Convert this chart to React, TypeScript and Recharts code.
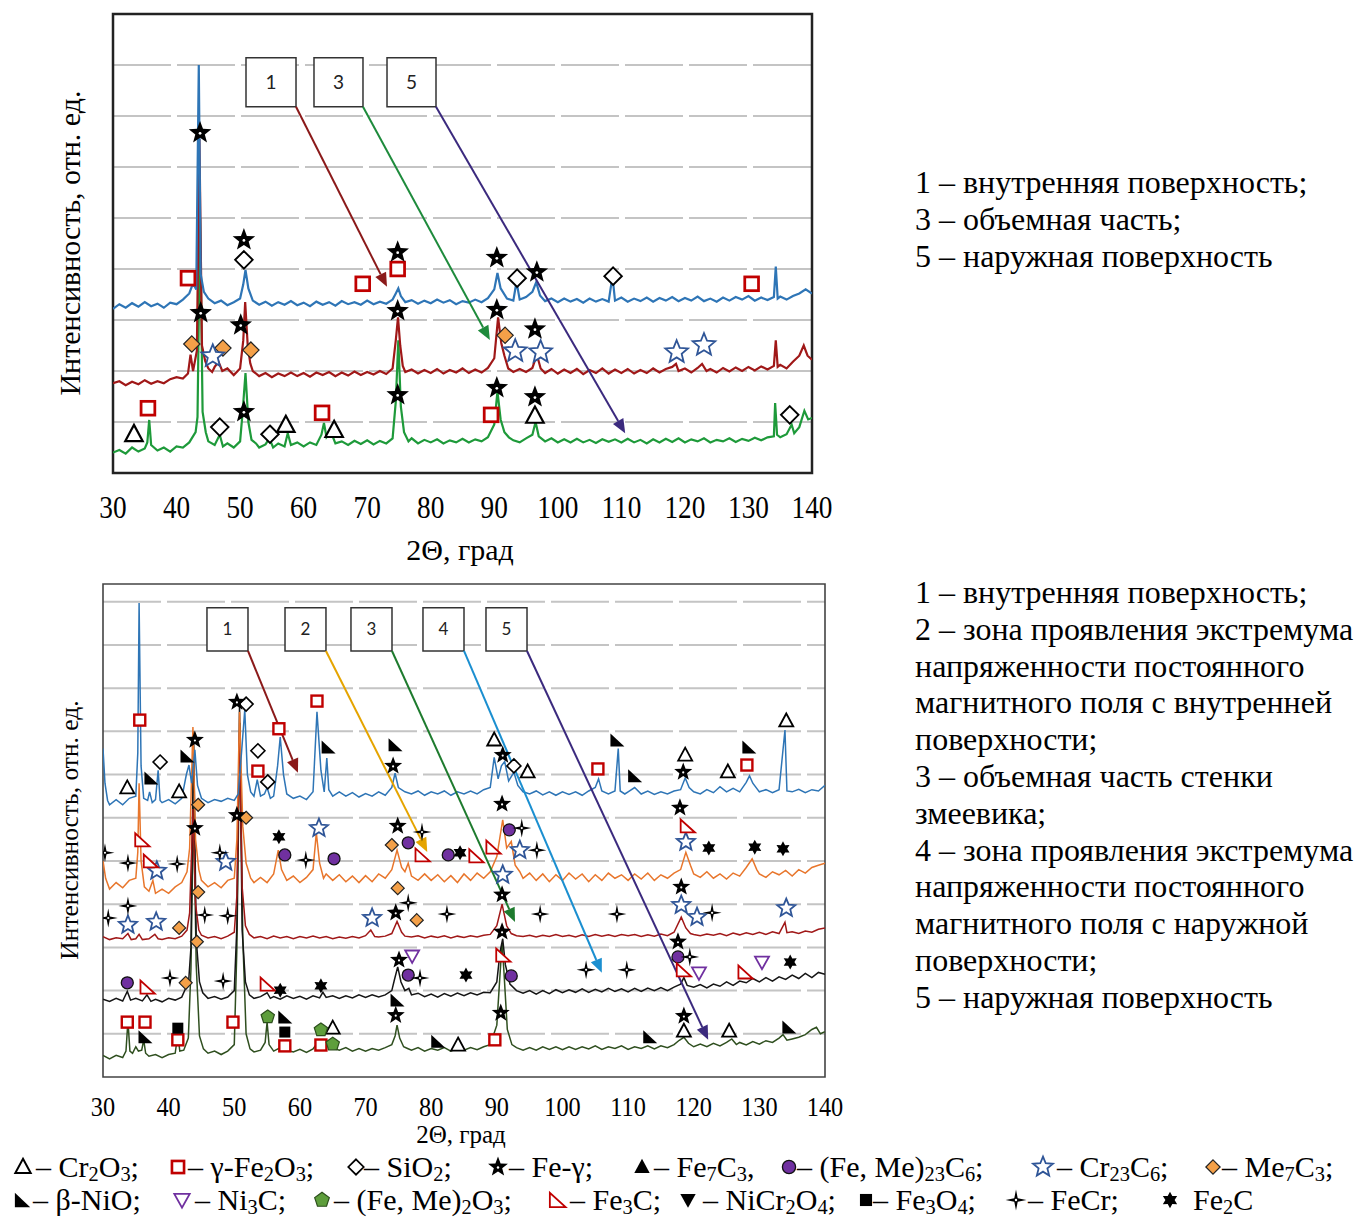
import React from 'react';
import { ComposedChart, Line, Scatter, XAxis, YAxis, CartesianGrid, ReferenceArea, ReferenceLine } from 'recharts';

type P = [number, number];
type Kind = 'tri' | 'sq' | 'dia' | 'star' | 'triS' | 'circ' | 'starO' | 'diaO' | 'nio' | 'ni3c' | 'pent' | 'fe3c' | 'invS' | 'sqS' | 'fecr' | 'fe2c';

const X_TICKS = [30, 40, 50, 60, 70, 80, 90, 100, 110, 120, 130, 140];
const TOP_GRID = [1, 2, 3, 4, 5, 6, 7, 8];
const BOT_GRID = [1, 2, 3, 4, 5, 6, 7, 8, 9, 10, 11];

// ---------- TOP CHART (intensity in relative units, 0..9) ----------
const TOP_1: P[] = [[30,3.22],[31,3.31],[32,3.24],[33,3.33],[34,3.26],[35,3.35],[36,3.27],[37,3.32],[38,3.24],[39,3.34],[40,3.31],[41,3.4],[42,3.52],[42.6,3.72],[43.1,3.6],[43.5,8.0],[43.8,3.9],[44.3,3.55],[45,3.42],[46,3.33],[47,3.38],[48,3.29],[49,3.35],[50,3.42],[50.5,3.7],[50.85,3.98],[51.3,3.62],[52,3.38],[53,3.3],[54,3.36],[55,3.28],[56,3.35],[57,3.3],[58,3.37],[59,3.29],[60,3.34],[61,3.27],[62,3.36],[63,3.3],[64,3.35],[65,3.28],[66,3.37],[67,3.31],[68,3.35],[69,3.3],[70,3.38],[71,3.31],[72,3.36],[73,3.32],[74,3.4],[74.5,3.52],[74.9,3.62],[75.3,3.47],[76,3.35],[77,3.39],[78,3.32],[79,3.38],[80,3.33],[81,3.4],[82,3.34],[83,3.39],[84,3.31],[85,3.37],[86,3.34],[87,3.4],[88,3.35],[89,3.43],[90,3.6],[90.5,3.92],[91,3.62],[92,3.42],[93,3.38],[93.5,3.75],[94,3.4],[95,3.45],[96,3.55],[96.6,3.74],[97.2,3.48],[98,3.37],[99,3.42],[100,3.35],[101,3.42],[102,3.36],[103,3.41],[104,3.34],[105,3.42],[106,3.36],[107,3.41],[108,3.36],[108.6,3.86],[109,3.38],[110,3.44],[111,3.36],[112,3.42],[113,3.37],[114,3.44],[115,3.36],[116,3.43],[117,3.38],[118,3.45],[119,3.37],[120,3.43],[121,3.38],[122,3.46],[123,3.37],[124,3.42],[125,3.36],[126,3.44],[127,3.38],[128,3.45],[129,3.4],[130,3.47],[131,3.38],[132,3.44],[133,3.39],[134,3.45],[134.3,4.05],[134.6,3.42],[135,3.46],[136,3.4],[137,3.47],[138,3.52],[139,3.6],[140,3.52]];
const TOP_3: P[] = [[30,1.76],[31,1.8],[32,1.72],[33,1.79],[34,1.74],[35,1.82],[36,1.75],[37,1.8],[38,1.76],[39,1.84],[40,1.88],[41,1.85],[41.8,1.95],[42.2,2.32],[42.6,2.0],[43.2,2.4],[43.6,6.55],[44,2.5],[44.5,2.2],[45,2.05],[45.6,1.98],[46,2.08],[46.6,2.18],[47.2,2.0],[48,2.05],[49,1.92],[50,2.05],[50.5,2.6],[50.8,3.35],[51.2,2.5],[51.6,2.15],[52,2.0],[53,1.9],[54,1.96],[55,1.88],[56,1.95],[57,1.9],[58,1.97],[59,1.9],[60,1.96],[61,1.89],[62,1.97],[63,1.92],[64,1.98],[65,1.9],[66,1.97],[67,1.91],[68,1.99],[69,1.92],[70,1.98],[71,1.93],[72,2.0],[73,1.94],[74,2.05],[74.5,2.6],[74.85,3.05],[75.2,2.5],[75.6,2.1],[76,1.98],[77,2.03],[78,1.95],[79,2.02],[80,1.96],[81,2.04],[82,1.95],[83,2.02],[84,1.97],[85,2.05],[86,1.96],[87,2.03],[88,1.97],[89,2.06],[90,2.25],[90.6,3.05],[91.1,2.55],[91.6,2.3],[92.2,2.05],[93,1.98],[94,2.04],[95,1.98],[96,2.06],[96.7,2.32],[97.3,2.05],[98,1.96],[99,2.04],[100,1.95],[101,2.03],[102,1.96],[103,2.04],[104,1.94],[105,2.02],[106,1.96],[107,2.05],[108,1.95],[109,2.03],[110,1.96],[111,2.04],[112,1.95],[113,2.02],[114,1.96],[115,2.05],[116,1.97],[117,2.04],[118,2.08],[118.6,2.14],[119,2.0],[120,2.05],[121,1.97],[122,2.06],[122.7,2.14],[123.4,2.0],[124,2.04],[125,1.97],[126,2.06],[127,1.99],[128,2.07],[129,2.0],[130,2.08],[131,2.01],[132,2.09],[133,2.03],[134,2.1],[134.3,2.6],[134.6,2.08],[135,2.12],[136,2.05],[137,2.18],[138,2.3],[138.7,2.5],[139.3,2.3],[140,2.22]];
const TOP_5: P[] = [[30,0.4],[31,0.45],[32,0.38],[33,0.5],[34,0.42],[35,0.48],[35.4,0.6],[35.7,1.04],[36,0.55],[37,0.44],[38,0.5],[39,0.42],[40,0.52],[41,0.5],[42,0.6],[43,0.8],[43.3,1.1],[43.7,5.0],[44.1,1.2],[44.6,0.8],[45,0.62],[46,0.55],[46.8,0.75],[47.3,0.52],[48,0.58],[49,0.5],[50,0.62],[50.4,1.2],[50.85,1.96],[51.3,1.0],[51.8,0.65],[52.5,0.58],[53,0.5],[54,0.56],[54.6,0.68],[55.2,0.5],[56,0.58],[57,0.52],[57.5,0.78],[58,0.55],[59,0.6],[60,0.52],[61,0.6],[62,0.55],[62.8,0.75],[63.2,0.98],[63.6,0.7],[64.3,0.8],[65,0.58],[66,0.62],[67,0.55],[68,0.63],[69,0.57],[70,0.64],[71,0.56],[72,0.63],[73,0.58],[74,0.68],[74.5,1.4],[74.9,2.6],[75.3,1.3],[75.8,0.8],[76.5,0.62],[77,0.68],[78,0.58],[79,0.65],[80,0.6],[81,0.66],[82,0.58],[83,0.64],[84,0.6],[85,0.67],[86,0.6],[87,0.66],[88,0.62],[89,0.7],[90,0.95],[90.5,1.6],[91,1.05],[91.6,0.8],[92.3,0.7],[93,0.64],[94,0.6],[95,0.68],[96,0.75],[96.5,1.0],[97,0.72],[98,0.62],[99,0.68],[100,0.6],[101,0.66],[102,0.6],[103,0.67],[104,0.6],[105,0.65],[106,0.59],[107,0.66],[108,0.61],[109,0.66],[110,0.6],[111,0.67],[112,0.6],[113,0.65],[114,0.58],[115,0.66],[116,0.6],[117,0.67],[118,0.61],[119,0.68],[120,0.6],[121,0.66],[122,0.62],[123,0.68],[124,0.6],[125,0.65],[126,0.62],[127,0.68],[128,0.61],[129,0.67],[130,0.63],[131,0.69],[132,0.64],[133,0.7],[134,0.72],[134.2,1.37],[134.5,0.75],[135,0.7],[136,0.76],[136.8,0.95],[137.2,0.78],[138,0.9],[138.8,1.22],[139.4,1.05],[140,1.08]];

const TOP_FE_GAMMA: P[] = [[43.7,6.67],[50.6,4.57],[74.8,4.33],[90.4,4.22],[96.7,3.94],[43.8,3.14],[50.1,2.9],[74.8,3.18],[90.4,3.2],[96.4,2.82],[50.6,1.2],[74.8,1.53],[90.4,1.67],[96.4,1.49]];
const TOP_FE2O3: P[] = [[41.8,3.82],[69.3,3.71],[74.8,4.0],[130.5,3.71],[35.5,1.27],[62.9,1.18],[89.5,1.14]];
const TOP_SIO2: P[] = [[50.6,4.18],[93.6,3.82],[108.7,3.86],[46.8,0.9],[54.7,0.76],[136.5,1.14]];
const TOP_ME7C3: P[] = [[42.4,2.53],[47.3,2.45],[51.7,2.41],[91.7,2.7]];
const TOP_CR23C6: P[] = [[45.7,2.29],[93.3,2.39],[97.3,2.37],[118.7,2.37],[123,2.51]];
const TOP_CR2O3: P[] = [[33.3,0.76],[57.2,0.94],[64.8,0.84],[96.4,1.12]];

const TOP_BOXES = [
  { label: '1', x1: 50.93, x2: 58.8, y1: 7.18, y2: 8.14 },
  { label: '3', x1: 61.63, x2: 69.34, y1: 7.18, y2: 8.14 },
  { label: '5', x1: 73.12, x2: 80.83, y1: 7.18, y2: 8.14 },
];
const TOP_ARROWS = [
  { color: '#8B1A1A', from: [58.8, 7.18], to: [73.12, 3.65] },
  { color: '#1E8B3C', from: [69.34, 7.18], to: [89.3, 2.61] },
  { color: '#3B2A7E', from: [80.83, 7.18], to: [110.6, 0.78] },
];

// ---------- BOTTOM CHART (0..11.42) ----------
const BOT_1: P[] = [[30,7.6],[30.3,6.8],[30.7,6.4],[31,6.3],[32,6.42],[33,6.3],[34,6.45],[35,6.5],[35.3,7.5],[35.5,10.97],[35.8,7.2],[36.2,6.45],[36.8,6.4],[37.1,6.6],[37.5,6.35],[38,6.42],[38.4,7.1],[38.7,6.4],[39,6.35],[40,6.42],[41,6.32],[42,6.45],[42.7,7.0],[43.1,7.22],[43.5,6.8],[44,7.57],[44.4,6.75],[45,6.45],[46,6.35],[47,6.42],[48,6.38],[49,6.45],[50,6.4],[50.6,6.55],[51.1,7.5],[51.6,8.5],[52,7.0],[52.5,6.6],[53,6.5],[53.5,6.88],[54,6.5],[54.6,6.55],[55,6.7],[55.5,6.45],[56,6.5],[56.6,7.2],[57,7.87],[57.5,7.0],[58,6.55],[59,6.45],[60,6.5],[61,6.42],[62,6.6],[62.6,8.45],[63.2,7.1],[63.7,6.6],[64.1,7.38],[64.4,6.65],[65,6.5],[66,6.6],[67,6.5],[68,6.58],[69,6.48],[70,6.56],[71,6.5],[72,6.6],[73,6.52],[74,6.7],[74.5,7.03],[75,6.7],[76,6.6],[77,6.55],[78,6.62],[79,6.52],[80,6.6],[81,6.55],[82,6.62],[83,6.52],[84,6.6],[85,6.55],[86,6.62],[87,6.55],[88,6.65],[89,6.7],[89.6,7.4],[90.2,6.9],[90.7,7.2],[91.2,7.3],[91.8,6.85],[92.6,7.05],[93.2,6.75],[94,6.6],[95,6.55],[96,6.62],[97,6.53],[98,6.6],[99,6.52],[100,6.6],[101,6.54],[102,6.6],[103,6.52],[104,6.62],[105,6.7],[105.5,6.9],[106,6.62],[107,6.55],[108,6.62],[108.5,7.6],[108.8,6.62],[109.5,6.55],[110,6.6],[111,6.7],[112,6.55],[113,6.62],[114,6.54],[115,6.6],[116,6.55],[117,6.62],[118,6.65],[118.7,6.92],[119.3,6.7],[120,6.6],[121,6.55],[122,6.65],[123,6.58],[124,6.72],[125,6.6],[126,6.68],[127,6.6],[128,6.82],[128.5,6.97],[129,6.8],[130,6.6],[131,6.65],[132,6.58],[133,6.65],[133.9,8.03],[134.2,6.62],[135,6.6],[136,6.66],[137,6.58],[138,6.65],[139,6.62],[140,6.75]];
const BOT_2: P[] = [[30,5.0],[30.4,4.6],[31,4.35],[32,4.5],[33,4.38],[34,4.55],[35,4.6],[35.3,5.2],[35.5,6.8],[35.8,5.0],[36.3,4.4],[37,4.3],[37.6,4.55],[38,4.25],[39,4.35],[40,4.25],[41,4.4],[42,4.5],[42.8,4.75],[43.2,5.3],[43.7,8.1],[44.1,5.5],[44.6,4.8],[45,4.55],[46,4.4],[47,4.5],[48,4.38],[49,4.55],[50,4.6],[50.4,5.5],[50.8,8.45],[51.3,5.8],[51.8,4.95],[52.5,4.6],[53,4.5],[54,4.62],[55,4.5],[56,4.7],[56.7,5.25],[57.2,4.8],[58,4.55],[59,4.65],[60,4.5],[61,4.62],[62,4.8],[62.5,5.65],[63,4.95],[63.6,4.6],[64,4.7],[65,4.55],[66,4.68],[67,4.52],[68,4.65],[69,4.5],[70,4.66],[71,4.52],[72,4.7],[73,4.6],[74,4.8],[74.8,5.25],[75.5,4.85],[76,4.75],[76.5,4.95],[77,4.65],[78,4.55],[79,4.7],[80,4.55],[81,4.68],[82,4.52],[83,4.66],[84,4.5],[85,4.7],[86,4.55],[87,4.72],[88,4.6],[89,4.75],[90,5.1],[90.9,5.95],[91.5,5.3],[92.2,5.45],[92.8,4.9],[93.5,4.75],[94,4.6],[95,4.72],[96,4.55],[97,4.7],[98,4.52],[99,4.68],[100,4.55],[101,4.72],[102,4.58],[103,4.7],[104,4.52],[105,4.68],[106,4.55],[107,4.72],[108,4.6],[109,4.68],[110,4.55],[111,4.7],[112,4.58],[113,4.72],[114,4.55],[115,4.68],[116,4.6],[117,4.72],[118,4.8],[118.8,5.2],[119.5,4.9],[120,4.7],[121,4.62],[122,4.75],[123,4.6],[124,4.7],[125,4.58],[126,4.72],[127,4.65],[128,4.85],[128.9,5.05],[129.6,4.8],[130,4.7],[131,4.62],[132,4.75],[133,4.68],[134,4.78],[135,4.65],[136,4.8],[137,4.72],[138,4.85],[139,4.9],[140,4.95]];
const BOT_3: P[] = [[30,3.25],[31,3.18],[32,3.22],[33,3.2],[33.8,3.32],[34.3,3.18],[35,3.2],[35.5,3.3],[36,3.18],[37,3.2],[37.9,3.3],[38.4,3.2],[39,3.18],[40,3.22],[41,3.2],[42,3.26],[42.8,3.4],[43.2,3.8],[43.7,6.2],[44.1,4.0],[44.6,3.4],[45,3.28],[46,3.22],[47,3.25],[48,3.2],[49,3.26],[50,3.35],[50.4,4.2],[50.8,7.95],[51.2,4.4],[51.7,3.5],[52.3,3.3],[53,3.22],[54,3.25],[55,3.2],[56,3.26],[57,3.22],[58,3.25],[59,3.2],[60,3.25],[61,3.22],[62,3.26],[63,3.22],[64,3.25],[65,3.2],[66,3.24],[67,3.21],[68,3.25],[69,3.22],[70,3.27],[70.8,3.4],[71.4,3.25],[72,3.24],[73,3.26],[74,3.32],[74.8,3.6],[75.5,3.35],[76,3.26],[77,3.24],[78,3.27],[79,3.22],[80,3.26],[81,3.23],[82,3.27],[83,3.22],[84,3.26],[85,3.23],[86,3.27],[87,3.24],[88,3.28],[89,3.3],[90,3.5],[90.8,4.0],[91.5,3.5],[92.2,3.32],[93,3.27],[94,3.25],[95,3.28],[96,3.24],[97,3.28],[98,3.25],[99,3.3],[100,3.25],[101,3.28],[102,3.24],[103,3.29],[104,3.25],[105,3.3],[106,3.26],[107,3.29],[108,3.25],[109,3.3],[110,3.27],[111,3.3],[112,3.25],[113,3.29],[114,3.26],[115,3.31],[116,3.27],[117,3.35],[118.1,3.7],[118.8,3.45],[119.5,3.32],[120,3.3],[121,3.27],[122,3.31],[123,3.28],[124,3.32],[125,3.27],[126,3.33],[127,3.29],[128,3.34],[129,3.3],[130,3.35],[131,3.3],[132,3.36],[133,3.32],[133.9,3.58],[134.2,3.34],[135,3.36],[136,3.32],[137,3.38],[138,3.35],[139,3.42],[140,3.45]];
const BOT_4: P[] = [[30,1.8],[31,1.75],[32,1.82],[33,1.76],[33.7,1.98],[34.2,1.78],[35,1.82],[36,1.76],[36.7,1.9],[37.3,1.75],[38,1.8],[39,1.74],[40,1.82],[41,1.78],[42,1.85],[42.5,2.02],[43,2.1],[43.4,3.0],[43.8,8.0],[44.2,3.2],[44.7,2.2],[45.2,1.95],[46,1.82],[47,1.86],[48,1.8],[49,1.85],[50,2.0],[50.4,3.5],[50.8,8.6],[51.2,3.4],[51.7,2.2],[52.3,1.9],[53,1.82],[54,1.86],[55,1.95],[55.5,1.82],[56,1.86],[57,1.8],[58,1.88],[59,1.82],[60,1.87],[61,1.8],[62,1.88],[63,1.83],[63.5,1.96],[64,1.84],[65,1.88],[66,1.82],[67,1.88],[68,1.83],[69,1.9],[70,1.84],[71,1.9],[72,1.85],[73,1.9],[74,2.0],[74.4,2.25],[74.9,2.55],[75.4,2.2],[76,2.0],[76.6,2.05],[77,1.9],[78,1.94],[79,1.86],[80,1.92],[81,1.85],[82,1.93],[83,1.87],[84,1.94],[85,1.88],[86,1.95],[87,1.9],[88,1.96],[89,1.95],[90,2.2],[90.5,2.9],[90.9,3.2],[91.3,2.6],[92,2.15],[93,2.0],[94,1.94],[95,2.0],[96,1.92],[97,2.0],[98,1.93],[99,2.02],[100,1.95],[101,2.02],[102,1.96],[103,2.04],[104,1.96],[105,2.03],[106,1.97],[107,2.05],[108,1.98],[109,2.04],[110,1.97],[111,2.05],[112,1.98],[113,2.06],[114,2.0],[115,2.07],[116,2.0],[117,2.08],[118,2.15],[118.5,2.3],[119,2.12],[120,2.08],[121,2.14],[122,2.06],[123,2.15],[124,2.1],[125,2.2],[126,2.12],[127,2.22],[128,2.18],[129,2.28],[130,2.2],[131,2.3],[132,2.22],[133,2.32],[134,2.26],[135,2.36],[136,2.28],[137,2.4],[138,2.3],[139,2.42],[140,2.38]];
const BOT_5: P[] = [[30,0.5],[31,0.42],[32,0.5],[33,0.45],[33.5,0.6],[33.8,1.3],[34.1,0.6],[34.5,0.55],[35,0.7],[35.4,0.6],[35.9,0.62],[36.2,0.86],[36.5,0.55],[37,0.48],[38,0.52],[39,0.45],[40,0.52],[41,0.55],[41.4,1.0],[41.7,0.6],[42.3,0.62],[43,0.9],[43.4,2.5],[43.8,6.3],[44.2,2.6],[44.7,0.95],[45.3,0.65],[46,0.55],[47,0.6],[48,0.52],[49,0.6],[50,0.75],[50.4,3.0],[50.85,8.2],[51.3,3.2],[51.8,1.0],[52.4,0.65],[53,0.58],[54,0.62],[54.7,0.8],[55,1.27],[55.3,0.75],[56,0.6],[57,0.68],[57.4,0.8],[58,0.62],[59,0.58],[60,0.64],[61,0.57],[62,0.65],[62.8,0.82],[63.5,0.68],[64,0.75],[64.6,0.85],[65.2,0.66],[66,0.62],[67,0.68],[68,0.6],[69,0.66],[70,0.6],[71,0.66],[72,0.62],[73,0.68],[74,0.75],[74.5,0.95],[74.8,1.2],[75.2,0.9],[75.8,0.7],[76.4,0.66],[77,0.62],[78,0.68],[79,0.6],[80,0.66],[81,0.62],[82,0.68],[83,0.6],[84,0.67],[85,0.62],[86,0.68],[87,0.63],[88,0.7],[89,0.75],[90,1.2],[90.5,2.4],[90.8,3.1],[91.1,2.4],[91.6,1.1],[92.3,0.75],[93,0.68],[94,0.62],[95,0.68],[96,0.62],[97,0.7],[98,0.64],[99,0.7],[100,0.63],[101,0.7],[102,0.64],[103,0.7],[104,0.65],[105,0.72],[106,0.64],[107,0.7],[108,0.66],[109,0.72],[110,0.64],[111,0.7],[112,0.66],[113,0.72],[114,0.65],[115,0.72],[116,0.68],[117,0.75],[117.8,0.85],[118.5,0.92],[119.2,0.78],[120,0.7],[121,0.76],[122,0.7],[123,0.78],[124,0.72],[125,0.8],[125.8,0.88],[126.5,0.75],[127,0.8],[128,0.74],[129,0.82],[130,0.76],[131,0.84],[132,0.8],[133,0.9],[133.6,0.98],[134.2,0.85],[135,0.88],[136,0.92],[137,0.98],[138,1.1],[138.7,1.15],[139.3,1.0],[140,1.05]];

const BOT_CR2O3: P[] = [[33.7,6.69],[41.6,6.6],[89.6,7.8],[94.7,7.06],[118.7,7.45],[125.2,7.06],[134.1,8.24],[65.0,1.13],[84.1,0.74],[118.5,1.06],[125.4,1.06]];
const BOT_FE2O3: P[] = [[35.6,8.26],[53.6,7.08],[56.8,8.06],[62.6,8.7],[105.4,7.13],[128.1,7.22],[33.7,1.27],[36.4,1.27],[41.4,0.86],[49.8,1.27],[57.7,0.72],[63.2,0.74],[89.7,0.86]];
const BOT_SIO2: P[] = [[38.7,7.29],[51.8,8.63],[53.6,7.55],[55.1,6.83],[92.6,7.2]];
const BOT_FE_GAMMA: P[] = [[44.0,7.8],[50.4,8.68],[74.2,7.2],[90.9,7.45],[118.4,7.06],[44.0,5.76],[50.4,6.06],[74.9,5.81],[90.8,6.32],[117.9,6.23],[74.6,3.8],[90.8,4.22],[118.1,4.4],[75.1,2.71],[90.8,3.36],[117.6,3.13],[74.6,1.43],[90.6,1.48],[118.5,1.41]];
const BOT_ME23C6: P[] = [[57.7,5.14],[65.2,5.05],[76.5,5.42],[82.6,5.14],[91.9,5.72],[33.7,2.18],[76.5,2.36],[92.2,2.34],[117.6,2.78]];
const BOT_CR23C6: P[] = [[38.2,4.77],[48.7,4.98],[62.9,5.76],[93.5,5.25],[90.9,4.68],[118.8,5.44],[33.8,3.52],[38.1,3.59],[71.0,3.68],[118.1,3.98],[120.5,3.7],[134.1,3.91]];
const BOT_ME7C3: P[] = [[44.5,6.3],[51.8,6.0],[74.0,5.37],[74.9,4.37],[44.5,4.28],[41.6,3.45],[77.8,3.63],[42.6,2.18],[44.3,3.13]];
const BOT_BNIO: P[] = [[37.3,6.92],[42.8,7.43],[64.3,7.64],[74.5,7.69],[108.3,7.8],[111.0,6.97],[128.4,7.64],[36.4,0.93],[57.7,1.39],[74.8,1.78],[81.0,0.83],[113.3,0.93],[134.5,1.16]];
const BOT_NI3C: P[] = [[77.1,2.8],[120.8,2.41],[130.4,2.66]];
const BOT_FEME2O3: P[] = [[55.1,1.39],[63.2,1.09],[65.0,0.76]];
const BOT_FE3C: P[] = [[35.9,5.49],[37.2,5.0],[78.6,5.14],[86.8,5.12],[89.4,5.32],[119.0,5.81],[36.7,2.08],[55.0,2.15],[90.9,2.82],[118.4,2.48],[127.8,2.43]];
const BOT_FE3O4: P[] = [[41.4,1.13],[57.7,1.04]];
const BOT_FECR: P[] = [[30.3,5.19],[33.8,4.95],[41.3,4.93],[47.8,5.19],[60.9,5.02],[78.6,5.67],[93.8,5.76],[96.1,5.25],[30.8,3.68],[33.8,3.96],[45.5,3.75],[49.0,3.73],[76.5,4.03],[82.4,3.77],[96.6,3.77],[108.3,3.77],[122.8,3.8],[40.2,2.29],[48.3,2.22],[78.3,2.29],[103.6,2.48],[109.8,2.48],[119.4,2.78]];
const BOT_FE2C: P[] = [[56.8,5.56],[84.4,5.19],[122.3,5.3],[129.3,5.32],[133.6,5.28],[57.0,2.01],[63.2,2.11],[85.3,2.36],[134.7,2.66]];

const BOT_BOXES = [
  { label: '1', x1: 45.84, x2: 52.09, y1: 9.86, y2: 10.86 },
  { label: '2', x1: 57.73, x2: 63.97, y1: 9.86, y2: 10.86 },
  { label: '3', x1: 67.78, x2: 74.03, y1: 9.86, y2: 10.86 },
  { label: '4', x1: 78.75, x2: 85.0, y1: 9.86, y2: 10.86 },
  { label: '5', x1: 88.35, x2: 94.6, y1: 9.86, y2: 10.86 },
];
const BOT_ARROWS = [
  { color: '#8B1A1A', from: [52.09, 9.86], to: [59.7, 7.04] },
  { color: '#E5A400', from: [63.97, 9.86], to: [79.4, 5.21] },
  { color: '#1E7B2E', from: [74.03, 9.86], to: [92.77, 3.59] },
  { color: '#1B8FD0', from: [85.0, 9.86], to: [106.0, 2.41] },
  { color: '#3B2A7E', from: [94.6, 9.86], to: [122.2, 0.86] },
];

const TOP_SERIES = [
  { name: '5', color: '#1E9A3A', pts: TOP_5 },
  { name: '3', color: '#A01818', pts: TOP_3 },
  { name: '1', color: '#2E75B6', pts: TOP_1 },
];
const BOT_SERIES = [
  { name: '5', color: '#2F4F1F', pts: BOT_5 },
  { name: '4', color: '#151515', pts: BOT_4 },
  { name: '3', color: '#A01818', pts: BOT_3 },
  { name: '2', color: '#E8762C', pts: BOT_2 },
  { name: '1', color: '#2E75B6', pts: BOT_1 },
];
const TOP_MARKS: { kind: Kind; pts: P[] }[] = [
  { kind: 'sq', pts: TOP_FE2O3 },
  { kind: 'dia', pts: TOP_SIO2 },
  { kind: 'diaO', pts: TOP_ME7C3 },
  { kind: 'starO', pts: TOP_CR23C6 },
  { kind: 'tri', pts: TOP_CR2O3 },
  { kind: 'star', pts: TOP_FE_GAMMA },
];
const BOT_MARKS: { kind: Kind; pts: P[] }[] = [
  { kind: 'tri', pts: BOT_CR2O3 },
  { kind: 'sq', pts: BOT_FE2O3 },
  { kind: 'dia', pts: BOT_SIO2 },
  { kind: 'circ', pts: BOT_ME23C6 },
  { kind: 'starO', pts: BOT_CR23C6 },
  { kind: 'diaO', pts: BOT_ME7C3 },
  { kind: 'nio', pts: BOT_BNIO },
  { kind: 'ni3c', pts: BOT_NI3C },
  { kind: 'pent', pts: BOT_FEME2O3 },
  { kind: 'fe3c', pts: BOT_FE3C },
  { kind: 'sqS', pts: BOT_FE3O4 },
  { kind: 'fecr', pts: BOT_FECR },
  { kind: 'fe2c', pts: BOT_FE2C },
  { kind: 'star', pts: BOT_FE_GAMMA },
];

const LEGEND_ROW1: { kind: Kind; ix: number; tx: number; text: string }[] = [
  { kind: 'tri', ix: 23, tx: 36, text: '– Cr_2O_3;' },
  { kind: 'sq', ix: 178, tx: 188, text: '– γ-Fe_2O_3;' },
  { kind: 'dia', ix: 356, tx: 364, text: '– SiO_2;' },
  { kind: 'star', ix: 498, tx: 509, text: '– Fe-γ;' },
  { kind: 'triS', ix: 642, tx: 654, text: '– Fe_7C_3,' },
  { kind: 'circ', ix: 789, tx: 797, text: '– (Fe, Me)_2_3C_6;' },
  { kind: 'starO', ix: 1043, tx: 1057, text: '– Cr_2_3C_6;' },
  { kind: 'diaO', ix: 1213, tx: 1222, text: '– Me_7C_3;' },
];
const LEGEND_ROW2: { kind: Kind; ix: number; tx: number; text: string }[] = [
  { kind: 'nio', ix: 22, tx: 33, text: '– β-NiO;' },
  { kind: 'ni3c', ix: 182, tx: 195, text: '– Ni_3C;' },
  { kind: 'pent', ix: 322, tx: 334, text: '– (Fe, Me)_2O_3;' },
  { kind: 'fe3c', ix: 557, tx: 570, text: '– Fe_3C;' },
  { kind: 'invS', ix: 688, tx: 703, text: '– NiCr_2O_4;' },
  { kind: 'sqS', ix: 866, tx: 873, text: '– Fe_3O_4;' },
  { kind: 'fecr', ix: 1016, tx: 1028, text: '– FeCr;' },
  { kind: 'fe2c', ix: 1170, tx: 1193, text: 'Fe_2C' },
];

const TOP_NOTES = ['1 – внутренняя поверхность;', '3 – объемная часть;', '5 – наружная поверхность'];
const BOT_NOTES = [
  '1 – внутренняя поверхность;',
  '2 – зона проявления экстремума',
  'напряженности постоянного',
  'магнитного поля с внутренней',
  'поверхности;',
  '3 – объемная часть стенки',
  'змеевика;',
  '4 – зона проявления экстремума',
  'напряженности постоянного',
  'магнитного поля с наружной',
  'поверхности;',
  '5 – наружная поверхность',
];

const SERIF = '"Liberation Serif", "Times New Roman", serif';

const toPts = (a: P[]) => a.map(([x, y]) => ({ x, y }));

function starPath(cx: number, cy: number, R: number, r: number, n: number) {
  let d = '';
  for (let i = 0; i < 2 * n; i++) {
    const rad = i % 2 === 0 ? R : r;
    const a = -Math.PI / 2 + (i * Math.PI) / n;
    d += (i === 0 ? 'M' : 'L') + (cx + rad * Math.cos(a)).toFixed(2) + ',' + (cy + rad * Math.sin(a)).toFixed(2);
  }
  return d + 'Z';
}

function Marker({ kind, cx, cy, s }: { kind: Kind; cx: number; cy: number; s: number }) {
  const k = s;
  switch (kind) {
    case 'tri':
    case 'triS': {
      const w = 7 * k, h1 = 7.5 * k, h2 = 5.5 * k;
      const d = `M${cx},${cy - h1} L${cx + w},${cy + h2} L${cx - w},${cy + h2} Z`;
      return kind === 'tri'
        ? <path d={d} fill="#fff" stroke="#000" strokeWidth={1.8 * Math.min(k, 1.2)} strokeLinejoin="miter" />
        : <path d={d} fill="#000" />;
    }
    case 'sq':
    case 'sqS': {
      const a = 5.5 * k;
      return kind === 'sq'
        ? <rect x={cx - a} y={cy - a} width={2 * a} height={2 * a} fill="#fff" stroke="#C00000" strokeWidth={2.4 * Math.min(k, 1.15)} />
        : <rect x={cx - a} y={cy - a} width={2 * a} height={2 * a} fill="#000" />;
    }
    case 'dia': {
      const a = 7 * k;
      return <path d={`M${cx},${cy - a} L${cx + a},${cy} L${cx},${cy + a} L${cx - a},${cy} Z`} fill="#fff" stroke="#000" strokeWidth={1.6 * Math.min(k, 1.2)} />;
    }
    case 'diaO': {
      const a = 6.5 * k;
      return <path d={`M${cx},${cy - a} L${cx + a},${cy} L${cx},${cy + a} L${cx - a},${cy} Z`} fill="#F4A048" stroke="#222" strokeWidth={1.2} />;
    }
    case 'star':
      return (
        <g>
          <path d={starPath(cx, cy, 9.5 * k, 4 * k, 5)} fill="#000" />
          <circle cx={cx} cy={cy + 0.5} r={1.1 * k} fill="#fff" />
        </g>
      );
    case 'starO':
      return <path d={starPath(cx, cy, 9.5 * k, 4.2 * k, 5)} fill="#fff" stroke="#2F5597" strokeWidth={1.8} strokeLinejoin="miter" />;
    case 'circ':
      return <circle cx={cx} cy={cy} r={6 * k} fill="#7030A0" stroke="#111" strokeWidth={1.3} />;
    case 'nio': {
      const a = 6.5 * k;
      return <path d={`M${cx - a},${cy - a} L${cx - a},${cy + a} L${cx + a * 1.15},${cy + a} Z`} fill="#000" />;
    }
    case 'fe3c': {
      const a = 6.5 * k;
      return <path d={`M${cx - a},${cy - a} L${cx - a},${cy + a} L${cx + a * 1.2},${cy + a} Z`} fill="#fff" stroke="#C00000" strokeWidth={1.8} />;
    }
    case 'ni3c':
    case 'invS': {
      const w = 7 * k, h1 = 5.5 * k, h2 = 7 * k;
      const d = `M${cx - w},${cy - h1} L${cx + w},${cy - h1} L${cx},${cy + h2} Z`;
      return kind === 'ni3c'
        ? <path d={d} fill="#fff" stroke="#7030A0" strokeWidth={1.8} />
        : <path d={d} fill="#000" />;
    }
    case 'pent':
      return <path d={starPath(cx, cy, 7 * k, 7 * k * Math.cos(Math.PI / 5), 5)} fill="#5E9E3C" stroke="#2C4F1C" strokeWidth={1.2} />;
    case 'fecr':
      return (
        <g>
          <path d={starPath(cx, cy, 9.5 * k, 2.2 * k, 4)} fill="#000" />
          <circle cx={cx} cy={cy} r={1.1 * k} fill="#fff" />
        </g>
      );
    case 'fe2c':
      return <path d={starPath(cx, cy, 7.5 * k, 4.2 * k, 6)} fill="#000" />;
    default:
      return null;
  }
}

const arrowShape = (color: string) => (props: any) => {
  const { x1, y1, x2, y2 } = props;
  const ang = Math.atan2(y2 - y1, x2 - x1);
  const L = 14, W = 6;
  const bx = x2 - L * Math.cos(ang), by = y2 - L * Math.sin(ang);
  const px = -Math.sin(ang) * W, py = Math.cos(ang) * W;
  return (
    <g>
      <line x1={x1} y1={y1} x2={bx} y2={by} stroke={color} strokeWidth={2} />
      <polygon points={`${x2},${y2} ${bx + px},${by + py} ${bx - px},${by - py}`} fill={color} />
    </g>
  );
};

const makeTick = (dy: number, fs: number, sx: number) => (props: any) => {
  const { x, y, payload } = props;
  return (
    <text x={x} y={y + dy} textAnchor="middle" fontFamily={SERIF} fontSize={fs} fill="#000"
      transform={`translate(${x},0) scale(${sx},1) translate(${-x},0)`}>
      {payload.value}
    </text>
  );
};

function RichText({ text }: { text: string }) {
  const parts: React.ReactNode[] = [];
  const re = /((?:_\d)+)/g;
  let last = 0;
  let m: RegExpExecArray | null;
  let i = 0;
  while ((m = re.exec(text)) !== null) {
    if (m.index > last) parts.push(<span key={i++}>{text.slice(last, m.index)}</span>);
    parts.push(<span key={i++} style={{ fontSize: '0.68em', lineHeight: 0, position: 'relative', top: '0.2em' }}>{m[1].replace(/_/g, '')}</span>);
    last = m.index + m[1].length;
  }
  if (last < text.length) parts.push(<span key={i++}>{text.slice(last)}</span>);
  return <>{parts}</>;
}

function Chart({ top, height, marginTop, left, right, axisH, ymax, grid, series, marks, boxes, arrows, lw, ms, frameW, frameC, tick, boxFs }: any) {
  return (
    <div style={{ position: 'absolute', left: 0, top, width: 1359, height }}>
      <ComposedChart width={1359} height={height} margin={{ top: marginTop, right, bottom: 0, left }}>
        <CartesianGrid horizontal vertical={false} horizontalValues={grid} stroke="#C4C4C4" strokeWidth={2} strokeDasharray="58 6" />
        <XAxis type="number" dataKey="x" domain={[30, 140]} ticks={X_TICKS} interval={0} axisLine={false} tickLine={false} height={axisH} allowDataOverflow tick={tick} />
        <YAxis type="number" dataKey="y" domain={[0, ymax]} hide allowDataOverflow />
        <ReferenceArea x1={30} x2={140} y1={0} y2={ymax} fill="none" stroke={frameC} strokeWidth={frameW} ifOverflow="visible" />
        {series.map((s: any) => (
          <Line key={s.name} data={toPts(s.pts)} dataKey="y" type="linear" stroke={s.color} strokeWidth={lw} dot={false} activeDot={false} isAnimationActive={false} />
        ))}
        {arrows.map((a: any, i: number) => (
          <ReferenceLine key={'a' + i} segment={[{ x: a.from[0], y: a.from[1] }, { x: a.to[0], y: a.to[1] }]} stroke={a.color} shape={arrowShape(a.color)} ifOverflow="visible" />
        ))}
        {boxes.map((b: any) => (
          <ReferenceArea key={'b' + b.label} x1={b.x1} x2={b.x2} y1={b.y1} y2={b.y2} fill="#fff" fillOpacity={1} stroke="#333" strokeWidth={1.5} ifOverflow="visible"
            label={{ value: b.label, position: 'center', fontSize: boxFs, fill: '#222', fontFamily: 'Lato, "Noto Sans", sans-serif' }} />
        ))}
        {marks.map((m: any) => (
          <Scatter key={m.kind} data={toPts(m.pts)} isAnimationActive={false}
            shape={(p: any) => <Marker kind={m.kind} cx={p.cx} cy={p.cy} s={ms} />} />
        ))}
      </ComposedChart>
    </div>
  );
}

function LegendRow({ items, cy }: { items: { kind: Kind; ix: number; tx: number; text: string }[]; cy: number }) {
  return (
    <>
      {items.map((it) => (
        <React.Fragment key={it.text}>
          <svg style={{ position: 'absolute', left: it.ix - 15, top: cy - 15 }} width={30} height={30}>
            <Marker kind={it.kind} cx={15} cy={15} s={1.1} />
          </svg>
          <div style={{ position: 'absolute', left: it.tx, top: cy - 15, height: 30, fontFamily: SERIF, fontSize: 30, lineHeight: '30px', whiteSpace: 'nowrap', color: '#000' }}>
            <RichText text={it.text} />
          </div>
        </React.Fragment>
      ))}
    </>
  );
}

export default function App() {
  return (
    <div style={{ position: 'absolute', left: 0, top: 0, width: 1359, height: 1221, background: '#fff', overflow: 'hidden' }}>
      <Chart top={0} height={600} marginTop={14} left={113} right={547} axisH={127} ymax={9} grid={TOP_GRID}
        series={TOP_SERIES} marks={TOP_MARKS} boxes={TOP_BOXES} arrows={TOP_ARROWS} lw={2.2} ms={1.25}
        frameW={2.5} frameC="#222" tick={makeTick(37, 31, 0.88)} boxFs={19} />
      <Chart top={560} height={620} marginTop={24} left={103} right={534} axisH={103} ymax={11.41} grid={BOT_GRID}
        series={BOT_SERIES} marks={BOT_MARKS} boxes={BOT_BOXES} arrows={BOT_ARROWS} lw={1.5} ms={1}
        frameW={1.6} frameC="#444" tick={makeTick(31, 27, 0.9)} boxFs={17} />

      <div style={{ position: 'absolute', left: 70, top: 243, transform: 'translate(-50%,-50%) rotate(-90deg)', fontFamily: SERIF, fontSize: 30, whiteSpace: 'nowrap' }}>
        Интенсивность, отн. ед.
      </div>
      <div style={{ position: 'absolute', left: 70, top: 830, transform: 'translate(-50%,-50%) rotate(-90deg)', fontFamily: SERIF, fontSize: 25.5, whiteSpace: 'nowrap' }}>
        Интенсивность, отн. ед.
      </div>
      <div style={{ position: 'absolute', left: 460, top: 550, transform: 'translate(-50%,-50%)', fontFamily: SERIF, fontSize: 30, whiteSpace: 'nowrap' }}>
        2Θ, град
      </div>
      <div style={{ position: 'absolute', left: 461, top: 1135, transform: 'translate(-50%,-50%)', fontFamily: SERIF, fontSize: 25, lineHeight: '26px', whiteSpace: 'nowrap' }}>
        2Θ, град
      </div>

      <div style={{ position: 'absolute', left: 915, top: 164, fontFamily: SERIF, fontSize: 32, lineHeight: '36.8px', whiteSpace: 'nowrap' }}>
        {TOP_NOTES.map((t) => <div key={t}>{t}</div>)}
      </div>
      <div style={{ position: 'absolute', left: 915, top: 574, fontFamily: SERIF, fontSize: 32, lineHeight: '36.8px', whiteSpace: 'nowrap' }}>
        {BOT_NOTES.map((t, i) => <div key={i}>{t}</div>)}
      </div>

      <LegendRow items={LEGEND_ROW1} cy={1167} />
      <LegendRow items={LEGEND_ROW2} cy={1200} />
    </div>
  );
}
